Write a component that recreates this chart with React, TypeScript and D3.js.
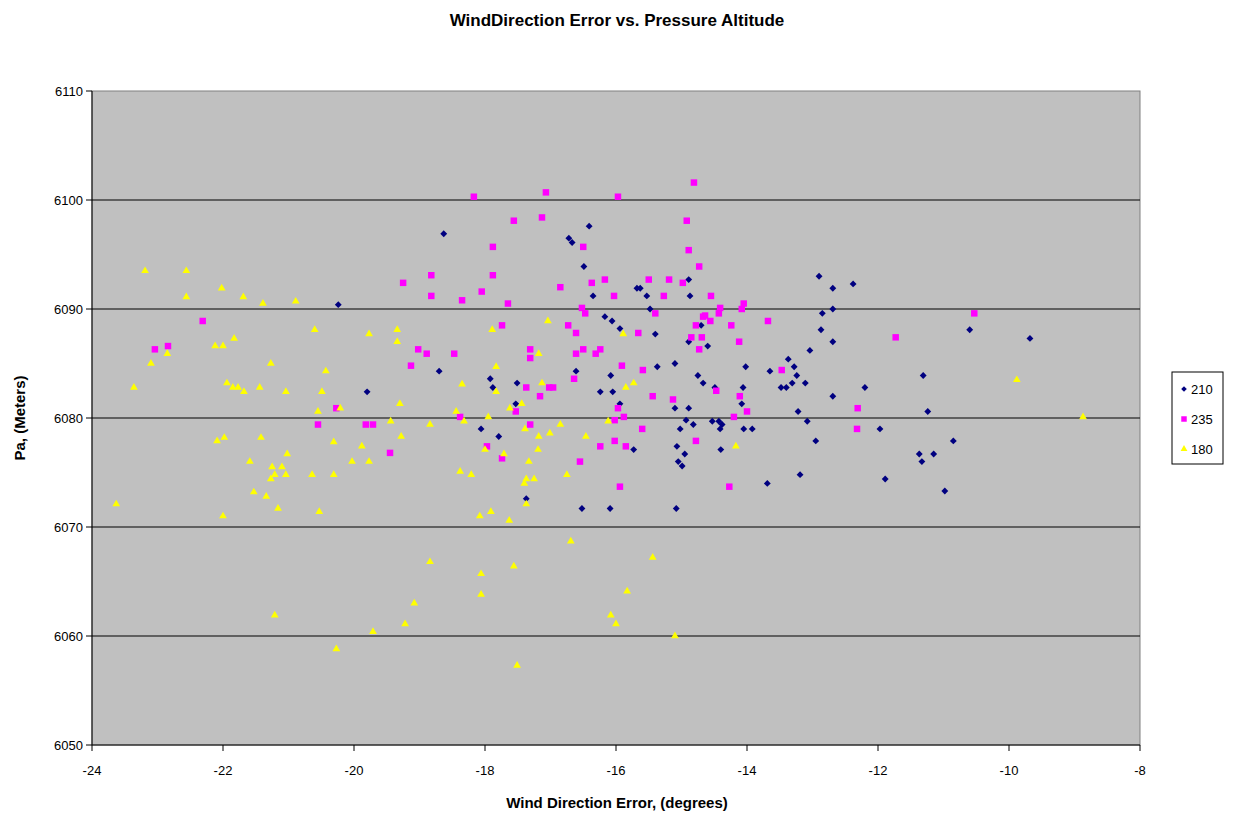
import React from "react";
import * as d3 from "d3";

const title = "WindDirection Error vs. Pressure Altitude";
const xTitle = "Wind Direction Error, (degrees)";
const yTitle = "Pa, (Meters)";
const xTicks = [-24, -22, -20, -18, -16, -14, -12, -10, -8];
const yTicks = [6050, 6060, 6070, 6080, 6090, 6100, 6110];
const seriesNames = ["210", "235", "180"];

const s210: [number, number][] = [
  [-18.63, 6096.9], [-20.24, 6090.4], [-18.7, 6084.3], [-17.92, 6083.6], [-17.88, 6082.8], [-19.8, 6082.4],
  [-18.06, 6079.0], [-17.79, 6078.3], [-16.41, 6097.6], [-16.72, 6096.5], [-16.67, 6096.1], [-16.49, 6093.9],
  [-16.35, 6091.2], [-15.68, 6091.9], [-15.63, 6091.9], [-15.53, 6091.2], [-14.89, 6092.7], [-14.87, 6091.2],
  [-15.48, 6090.0], [-16.17, 6089.3], [-16.06, 6088.9], [-15.94, 6088.2], [-15.4, 6087.7], [-14.89, 6087.0],
  [-14.7, 6088.5], [-16.61, 6084.3], [-16.08, 6083.9], [-15.37, 6084.7], [-15.1, 6085.0], [-14.75, 6083.9],
  [-14.67, 6083.2], [-17.51, 6083.2], [-16.24, 6082.4], [-16.05, 6082.4], [-17.53, 6081.3], [-15.94, 6081.3],
  [-15.1, 6080.9], [-14.89, 6080.9], [-14.93, 6079.8], [-14.82, 6079.4], [-15.02, 6079.0], [-15.73, 6077.1],
  [-15.07, 6077.4], [-14.95, 6076.7], [-15.05, 6076.0], [-14.99, 6075.6], [-17.37, 6072.6], [-16.52, 6071.7],
  [-16.09, 6071.7], [-15.08, 6071.7], [-14.6, 6086.6], [-14.02, 6084.7], [-13.65, 6084.3], [-14.49, 6082.8],
  [-14.06, 6082.8], [-14.08, 6081.3], [-13.48, 6082.8], [-13.4, 6082.8], [-13.37, 6085.4], [-13.28, 6084.7],
  [-13.24, 6083.9], [-13.31, 6083.2], [-13.11, 6083.2], [-13.04, 6086.2], [-12.9, 6093.0], [-12.69, 6091.9],
  [-12.38, 6092.3], [-12.85, 6089.6], [-12.69, 6090.0], [-12.87, 6088.1], [-12.69, 6087.0], [-12.69, 6082.0],
  [-12.2, 6082.8], [-13.22, 6080.6], [-13.08, 6079.7], [-14.53, 6079.7], [-14.43, 6079.7], [-14.41, 6079.0],
  [-14.38, 6079.4], [-14.05, 6079.0], [-13.92, 6079.0], [-11.97, 6079.0], [-12.95, 6077.9], [-14.4, 6077.1],
  [-13.69, 6074.0], [-13.19, 6074.8], [-11.89, 6074.4], [-10.6, 6088.1], [-9.68, 6087.3], [-11.31, 6083.9],
  [-11.24, 6080.6], [-10.85, 6077.9], [-11.37, 6076.7], [-11.15, 6076.7], [-11.33, 6076.0], [-10.98, 6073.3],
];

const s235: [number, number][] = [
  [-22.31, 6088.9], [-22.84, 6086.6], [-23.04, 6086.3], [-18.17, 6100.3], [-17.88, 6095.7], [-18.82, 6093.1],
  [-17.88, 6093.1], [-19.25, 6092.4], [-18.82, 6091.2], [-18.05, 6091.6], [-18.35, 6090.8], [-17.74, 6088.5],
  [-19.02, 6086.3], [-18.89, 6085.9], [-18.47, 6085.9], [-19.13, 6084.8], [-20.27, 6080.9], [-18.38, 6080.1],
  [-20.55, 6079.4], [-19.82, 6079.4], [-19.71, 6079.4], [-19.45, 6076.8], [-17.97, 6077.4], [-17.74, 6076.3],
  [-17.07, 6100.7], [-15.97, 6100.3], [-14.81, 6101.6], [-17.56, 6098.1], [-17.13, 6098.4], [-14.92, 6098.1],
  [-16.5, 6095.7], [-14.89, 6095.4], [-14.73, 6093.9], [-16.85, 6092.0], [-16.37, 6092.4], [-16.17, 6092.7],
  [-16.03, 6091.2], [-15.5, 6092.7], [-15.19, 6092.7], [-14.98, 6092.4], [-15.27, 6091.2], [-17.65, 6090.5],
  [-16.52, 6090.1], [-16.47, 6089.6], [-15.4, 6089.6], [-16.73, 6088.5], [-16.61, 6087.8], [-15.66, 6087.8],
  [-14.67, 6089.3], [-14.78, 6088.5], [-14.85, 6087.4], [-14.69, 6087.4], [-14.73, 6086.3], [-17.31, 6086.3],
  [-17.31, 6085.5], [-16.61, 6085.9], [-16.5, 6086.3], [-16.31, 6085.9], [-16.24, 6086.3], [-15.91, 6084.8],
  [-15.59, 6084.4], [-16.64, 6083.6], [-17.37, 6082.8], [-17.02, 6082.8], [-16.96, 6082.8], [-17.16, 6082.0],
  [-15.44, 6082.0], [-15.13, 6081.7], [-15.97, 6080.9], [-17.53, 6080.6], [-16.02, 6079.8], [-15.88, 6080.1],
  [-17.31, 6079.4], [-15.6, 6079.0], [-16.02, 6077.9], [-14.78, 6077.9], [-16.24, 6077.4], [-15.85, 6077.4],
  [-16.55, 6076.0], [-15.94, 6073.7], [-14.55, 6091.2], [-14.41, 6090.1], [-14.43, 6089.6], [-14.05, 6090.5],
  [-14.08, 6090.0], [-14.64, 6089.4], [-14.56, 6088.9], [-14.24, 6088.5], [-13.68, 6088.9], [-14.12, 6087.0],
  [-11.73, 6087.4], [-13.47, 6084.4], [-14.47, 6082.5], [-14.11, 6082.0], [-14.0, 6080.6], [-14.2, 6080.1],
  [-12.31, 6080.9], [-12.32, 6079.0], [-14.27, 6073.7], [-10.53, 6089.6],
];

const s180: [number, number][] = [
  [-23.19, 6093.5], [-22.56, 6093.5], [-22.02, 6091.9], [-22.56, 6091.1], [-21.69, 6091.1], [-21.39, 6090.5],
  [-20.89, 6090.7], [-21.83, 6087.3], [-22.12, 6086.6], [-22.0, 6086.6], [-22.85, 6085.9], [-23.1, 6085.0],
  [-21.27, 6085.0], [-23.36, 6082.8], [-21.94, 6083.2], [-21.85, 6082.8], [-21.77, 6082.8], [-21.68, 6082.4],
  [-21.44, 6082.8], [-21.04, 6082.4], [-21.98, 6078.2], [-22.09, 6077.9], [-21.42, 6078.2], [-21.02, 6076.7],
  [-21.59, 6076.0], [-21.25, 6075.5], [-21.1, 6075.5], [-21.21, 6074.8], [-21.27, 6074.4], [-21.04, 6074.8],
  [-21.53, 6073.2], [-21.34, 6072.8], [-21.16, 6071.7], [-23.63, 6072.1], [-22.0, 6071.0], [-21.21, 6061.9],
  [-20.6, 6088.1], [-19.77, 6087.7], [-19.34, 6088.1], [-19.34, 6087.0], [-17.89, 6088.1], [-20.43, 6084.3],
  [-17.83, 6084.7], [-18.35, 6083.1], [-20.49, 6082.4], [-17.83, 6082.4], [-19.3, 6081.3], [-20.21, 6080.9],
  [-20.55, 6080.6], [-18.44, 6080.6], [-18.32, 6079.7], [-17.95, 6080.1], [-19.44, 6079.7], [-18.84, 6079.4],
  [-19.28, 6078.3], [-20.31, 6077.8], [-19.88, 6077.4], [-20.03, 6076.0], [-19.77, 6076.0], [-20.64, 6074.8],
  [-20.31, 6074.8], [-18.38, 6075.1], [-18.21, 6074.8], [-18.0, 6077.1], [-20.53, 6071.4], [-18.08, 6071.0],
  [-17.91, 6071.4], [-18.84, 6066.8], [-18.06, 6065.7], [-18.06, 6063.8], [-19.08, 6063.0], [-19.22, 6061.1],
  [-19.71, 6060.4], [-20.27, 6058.8], [-17.04, 6088.9], [-15.89, 6087.7], [-17.18, 6085.9], [-17.13, 6083.2],
  [-15.85, 6082.8], [-15.73, 6083.2], [-17.62, 6080.9], [-17.44, 6081.3], [-16.12, 6079.7], [-17.39, 6079.0],
  [-16.85, 6079.4], [-17.01, 6078.6], [-17.18, 6078.3], [-16.46, 6078.3], [-17.71, 6076.7], [-17.19, 6077.1],
  [-17.33, 6076.0], [-17.37, 6074.4], [-17.4, 6074.0], [-17.25, 6074.4], [-16.75, 6074.8], [-17.37, 6072.1],
  [-17.63, 6070.6], [-16.69, 6068.7], [-17.56, 6066.4], [-15.44, 6067.2], [-15.83, 6064.1], [-16.08, 6061.9],
  [-16.0, 6061.1], [-15.1, 6060.0], [-17.51, 6057.3], [-14.17, 6077.4], [-9.88, 6083.5], [-8.87, 6080.1],
];

const W = 1234, H = 816;
const M = { left: 92, right: 1140, top: 91, bottom: 745 };
const FONT = "Arial, 'Liberation Sans', sans-serif";

export default function App() {
  const x = d3.scaleLinear().domain([-24, -8]).range([M.left, M.right]);
  const y = d3.scaleLinear().domain([6050, 6110]).range([M.bottom, M.top]);
  const diamond = d3.symbol().type(d3.symbolDiamond2).size(30)();
  const square = d3.symbol().type(d3.symbolSquare).size(42)();
  const tri = d3.symbol().type(d3.symbolTriangle).size(26)();
  const series = [
    { name: seriesNames[0], data: s210, path: diamond, fill: "#000080" },
    { name: seriesNames[1], data: s235, path: square, fill: "#FF00FF" },
    { name: seriesNames[2], data: s180, path: tri, fill: "#FFFF00" },
  ];
  const legendSym = [
    d3.symbol().type(d3.symbolDiamond2).size(20)(),
    d3.symbol().type(d3.symbolSquare).size(30)(),
    d3.symbol().type(d3.symbolTriangle).size(20)(),
  ];
  return (
    <div style={{ position: "fixed", left: 0, top: 0, width: W, height: H, background: "#fff" }}>
      <svg width={W} height={H} style={{ display: "block" }} fontFamily={FONT}>
        <rect x={0} y={0} width={W} height={H} fill="#fff" />
        <text x={617} y={26} textAnchor="middle" fontSize={17} fontWeight="bold">{title}</text>
        <rect x={M.left} y={M.top} width={M.right - M.left} height={M.bottom - M.top} fill="#C0C0C0" stroke="#808080" strokeWidth={1} />
        {yTicks.map((t) => (
          <g key={t}>
            {t > 6050 && t < 6110 && (
              <line x1={M.left} x2={M.right} y1={y(t)} y2={y(t)} stroke="#000" strokeWidth={1.2} />
            )}
            <line x1={M.left - 6} x2={M.left} y1={y(t)} y2={y(t)} stroke="#000" />
            <text x={M.left - 9} y={y(t) + 5} textAnchor="end" fontSize={13}>{t}</text>
          </g>
        ))}
        {xTicks.map((t) => (
          <g key={t}>
            <line x1={x(t)} x2={x(t)} y1={M.bottom} y2={M.bottom + 6} stroke="#000" />
            <text x={x(t)} y={M.bottom + 30} textAnchor="middle" fontSize={13}>{t}</text>
          </g>
        ))}
        <line x1={M.left} x2={M.left} y1={M.top} y2={M.bottom} stroke="#000" />
        <line x1={M.left} x2={M.right} y1={M.bottom} y2={M.bottom} stroke="#000" />
        {series.map((s) => (
          <g key={s.name}>
            {s.data.map((d, i) => (
              <path key={i} d={s.path} transform={`translate(${x(d[0])},${y(d[1])})`} fill={s.fill} />
            ))}
          </g>
        ))}
        <text x={617} y={808} textAnchor="middle" fontSize={15} fontWeight="bold">{xTitle}</text>
        <text transform={`translate(25,${(M.top + M.bottom) / 2}) rotate(-90)`} textAnchor="middle" fontSize={15} fontWeight="bold">{yTitle}</text>
        <g>
          <rect x={1172} y={372} width={51} height={92} fill="#fff" stroke="#000" />
          {series.map((s, i) => (
            <g key={s.name} transform={`translate(0,${389 + i * 30})`}>
              <path d={legendSym[i]} transform="translate(1184,0)" fill={s.fill} />
              <text x={1191} y={5} fontSize={13}>{s.name}</text>
            </g>
          ))}
        </g>
      </svg>
    </div>
  );
}
